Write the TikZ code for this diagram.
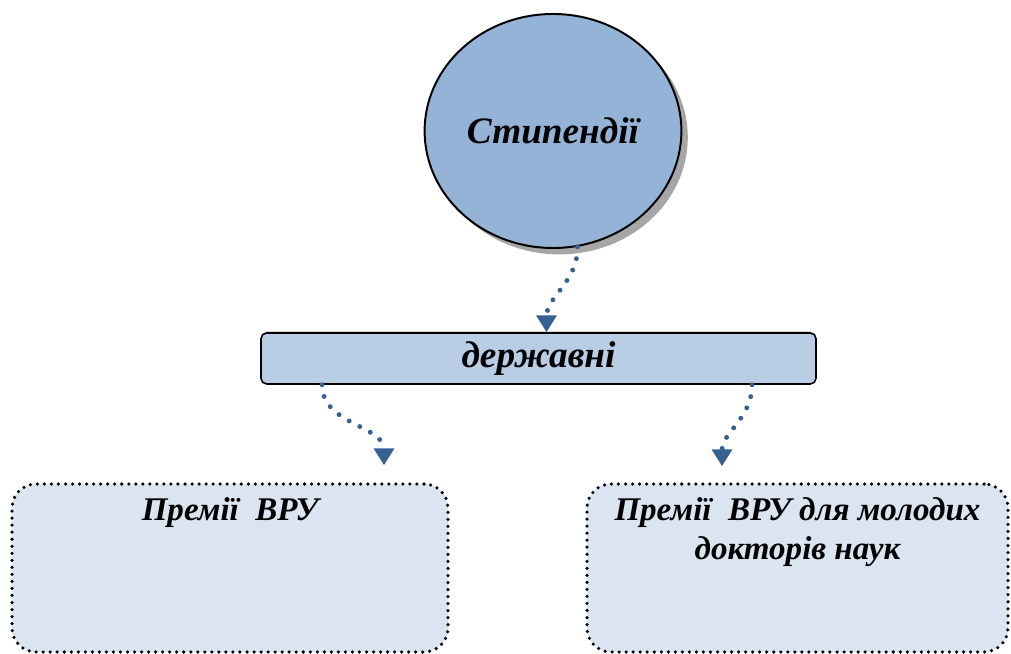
\documentclass[tikz,border=0pt]{standalone}
\usepackage{fontspec}
\setmainfont{Liberation Serif}
\usetikzlibrary{shapes.geometric, arrows.meta, shadows}

\definecolor{circfill}{RGB}{149,179,215}
\definecolor{statefill}{RGB}{185,205,229}
\definecolor{boxfill}{RGB}{219,229,241}
\definecolor{linkblue}{RGB}{55,96,146}

\begin{document}
\begin{tikzpicture}[
    txt/.style={font=\fontsize{26.5}{28}\selectfont\bfseries\itshape},
    smalltxt/.style={font=\fontsize{23.5}{27.7}\selectfont\bfseries\itshape},
    link/.style={draw=linkblue, line width=3.5pt, line cap=round,
      dash pattern=on 0pt off 8.5pt, -{Triangle[width=14pt,length=12pt]}},
    premia/.style={draw, line width=2.5pt, line cap=round,
      dash pattern=on 0pt off 5pt, rounded corners=0.6cm, fill=boxfill,
      minimum height=4.2cm},
    premiatext/.style={smalltxt, anchor=north, yshift=-0.27cm, align=center}
  ]

  \useasboundingbox (0, 0) rectangle (25.275, 16.325);

  \node[ellipse, draw, line width=1.4pt, fill=circfill, txt,
    minimum width=6.225cm, minimum height=5.85cm,
    drop shadow={shadow xshift=0.16cm, shadow yshift=-0.16cm, opacity=0.7}]
    (stip) at (13.825, 13.05) {Стипендії};

  \node[rectangle, draw, line width=1.1pt, rounded corners=4pt, fill=statefill, txt,
    minimum width=13.875cm, minimum height=1.275cm,
    drop shadow={shadow xshift=0cm, shadow yshift=0.05cm, opacity=0.3}]
    (derzh) at (13.4625, 7.3625) {державні};

  \node[premia, minimum width=10.9cm,
    label={[premiatext]north:{Премії\ \ ВРУ}}]
    (vru) at (5.75, 2.125) {};
  \node[premia, minimum width=10.525cm,
    label={[premiatext]north:{Премії\ \ ВРУ для молодих\\докторів наук}}]
    (vrumol) at (19.9375, 2.125) {};

  \draw[link] (stip.-78) to[out=-90, in=90] ([xshift=0.2cm]derzh.north);
  \draw[link] ([xshift=-5.4125cm]derzh.south) to[out=-90, in=90] ([xshift=3.85cm, yshift=0.425cm]vru.north);
  \draw[link] ([xshift=5.3375cm]derzh.south) to[out=-90, in=90] ([xshift=-1.8875cm, yshift=0.4cm]vrumol.north);

\end{tikzpicture}
\end{document}
